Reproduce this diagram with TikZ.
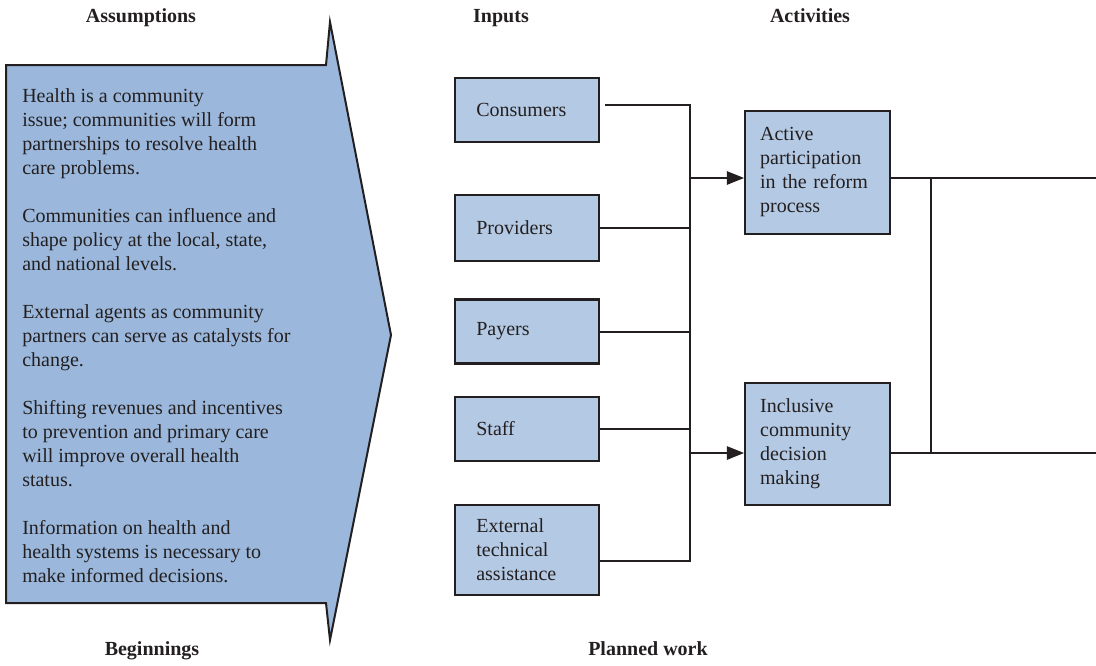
\documentclass[tikz,border=0pt]{standalone}
\usepackage{fontspec}
\setmainfont{Liberation Serif}
\usetikzlibrary{calc}
\usetikzlibrary{arrows.meta}

\definecolor{arrowblue}{RGB}{155,184,220}
\definecolor{boxblue}{RGB}{180,201,228}
\definecolor{inkgray}{RGB}{35,31,32}

\begin{document}
\begin{tikzpicture}[x=0.75pt,y=0.75pt,yscale=-1,xscale=1,
  every node/.style={text=inkgray,font=\fontsize{15}{18}\selectfont},
  header/.style={anchor=base,font=\fontsize{15}{18}\selectfont\bfseries},
  inbox/.style={draw=inkgray,line width=1.6pt,fill=boxblue,align=left,
    text width=76pt,inner xsep=16pt,minimum height=48pt},
  actbox/.style={draw=inkgray,line width=1.6pt,fill=boxblue,align=left,
    text width=86pt,inner xsep=11.25pt,minimum height=92pt},
  conn/.style={draw=inkgray,line width=1.5pt},
  arr/.style={conn,-{Triangle[length=13pt,width=10pt]}}]
\useasboundingbox (0,0) rectangle (1096,665);

%Shape: Big Arrow
\draw [draw=inkgray,fill=arrowblue,line width=1.5pt] (6,65) -- (326,65) -- (330,22) -- (391,335) -- (330,640) -- (326,603) -- (6,603) -- cycle ;

% Text Node
\node (assum) [anchor=north west,inner sep=0pt,align=left] at (22,88) {Health is a community\\ issue; communities will form\\ partnerships to resolve health\\ care problems.\\[18pt]
Communities can influence and\\ shape policy at the local, state,\\ and national levels.\\[18pt]
External agents as community\\ partners can serve as catalysts for\\ change.\\[18pt]
Shifting revenues and incentives\\ to prevention and primary care\\ will improve overall health\\ status.\\[18pt]
Information on health and\\ health systems is necessary to\\ make informed decisions.};

% Headers
\node (hAssum) [header] at (141,22) {Assumptions};
\node (hInput) [header] at (501,22) {Inputs};
\node (hActiv) [header] at (810,22) {Activities};
\node (hBegin) [header] at (152,655) {Beginnings};
\node (hPlan) [header] at (648,655) {Planned work};

% Inputs
\node (cons) [inbox] at (527,110) {Consumers};
\node (prov) [inbox,minimum height=49.5pt] at (527,228) {Providers};
\node (pay) [inbox] at (527,331.5) {Payers};
\node (staff) [inbox] at (527,429) {Staff};
\node (ext) [inbox,minimum height=67.5pt] at (527,550) {External\\ technical\\ assistance};

% Activities
\node (act) [actbox] at (817.5,172.5) {Active\\ participation\\ in the reform\\ process};
\node (incl) [actbox] at (817.5,444) {Inclusive\\ community\\ decision\\ making};

% Junctions
\coordinate (busT) at (690,105);
\coordinate (busB) at (690,561);
\coordinate (jA) at (690,178);
\coordinate (jB) at (690,453);
\coordinate (rjA) at (931,178);
\coordinate (rjB) at (931,453);
\coordinate (outA) at (1096,178);
\coordinate (outB) at (1096,453);

%Straight Lines
\draw [conn] ($(cons.east |- busT)+(5,0)$) -- (busT) -- (busB) -- (ext.east |- busB) ;
\foreach \n in {prov,pay,staff}
  \draw [conn] (\n.east) -- (\n.east -| busT) ;
\draw [arr] (jA) -- (act.west |- jA) ;
\draw [arr] (jB) -- (incl.west |- jB) ;
\draw [conn] (act.east |- jA) -- (outA) ;
\draw [conn] (incl.east |- jB) -- (outB) ;
\draw [conn] (rjA) -- (rjB) ;

\end{tikzpicture}
\end{document}
